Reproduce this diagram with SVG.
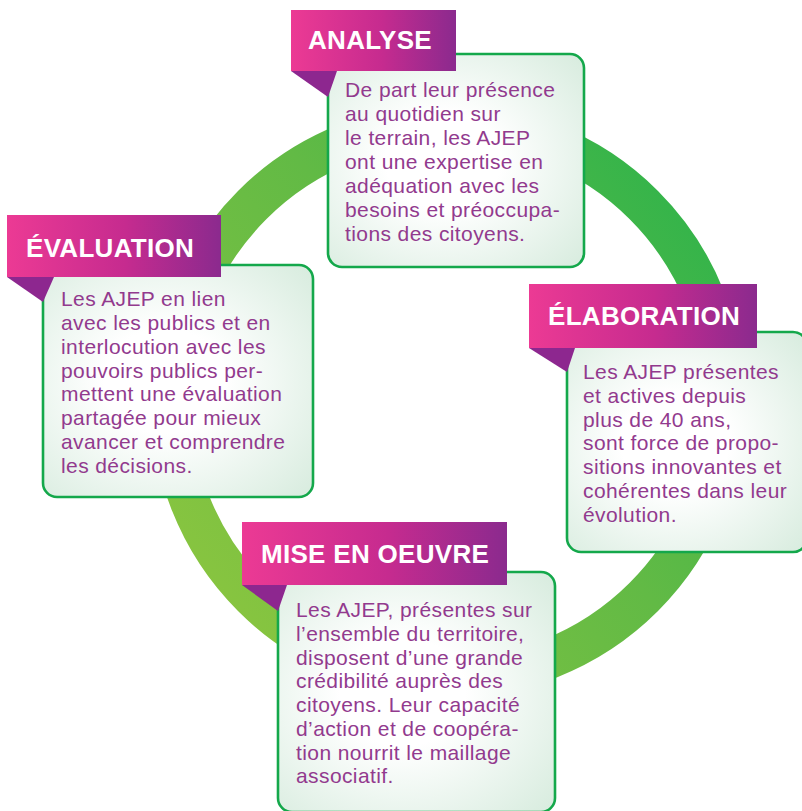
<svg xmlns="http://www.w3.org/2000/svg" width="802" height="811" viewBox="0 0 802 811">
  <defs>
    <linearGradient id="ring" gradientUnits="userSpaceOnUse" x1="720" y1="180" x2="170" y2="620">
      <stop offset="0" stop-color="#2db34b"/>
      <stop offset="0.45" stop-color="#62ba45"/>
      <stop offset="1" stop-color="#8dc63f"/>
    </linearGradient>
    <linearGradient id="banner" x1="0" y1="0" x2="1" y2="0">
      <stop offset="0" stop-color="#ec3a94"/>
      <stop offset="0.55" stop-color="#c62b8f"/>
      <stop offset="1" stop-color="#8b2a8e"/>
    </linearGradient>
    <radialGradient id="boxfill" cx="0.45" cy="0.5" r="0.75">
      <stop offset="0.3" stop-color="#ffffff"/>
      <stop offset="1" stop-color="#d6ebdd"/>
    </radialGradient>
    <style>
      .box { fill: url(#boxfill); stroke: #14a84b; stroke-width: 2.6; }
      .banner { fill: url(#banner); }
      .fold { fill: #8d278f; }
      .title { font-family: "Liberation Sans", Arial, sans-serif; font-weight: bold; font-size: 26px; fill: #ffffff; letter-spacing: 0.3px; }
      .body { font-family: "Liberation Sans", Arial, sans-serif; font-size: 21px; fill: #923a8e; letter-spacing: 0.4px; }
    </style>
  </defs>
  <rect width="802" height="811" fill="#ffffff"/>

  <g id="connectors">
    <circle cx="448" cy="401" r="277" fill="none" stroke="url(#ring)" stroke-width="40"/>
  </g>

  <g id="analyse">
    <rect class="box" x="328" y="54" width="256" height="213" rx="14"/>
    <polygon class="fold" points="291,71 337,71 328,97"/>
    <rect class="banner" x="291" y="10" width="165" height="61"/>
    <text class="title" x="308" y="49">ANALYSE</text>
    <text class="body">
      <tspan x="345" y="97">De part leur présence</tspan>
      <tspan x="345" y="121">au quotidien sur</tspan>
      <tspan x="345" y="145">le terrain, les AJEP</tspan>
      <tspan x="345" y="169">ont une expertise en</tspan>
      <tspan x="345" y="193">adéquation avec les</tspan>
      <tspan x="345" y="217">besoins et préoccupa-</tspan>
      <tspan x="345" y="241">tions des citoyens.</tspan>
    </text>
  </g>

  <g id="evaluation">
    <rect class="box" x="43" y="265" width="270" height="232" rx="14"/>
    <polygon class="fold" points="7,277 54,277 43,302"/>
    <rect class="banner" x="7" y="215" width="214" height="62"/>
    <text class="title" x="26" y="257">ÉVALUATION</text>
    <text class="body">
      <tspan x="61" y="306">Les AJEP en lien</tspan>
      <tspan x="61" y="330">avec les publics et en</tspan>
      <tspan x="61" y="354">interlocution avec les</tspan>
      <tspan x="61" y="378">pouvoirs publics per-</tspan>
      <tspan x="61" y="401">mettent une évaluation</tspan>
      <tspan x="61" y="425">partagée pour mieux</tspan>
      <tspan x="61" y="449">avancer et comprendre</tspan>
      <tspan x="61" y="473">les décisions.</tspan>
    </text>
  </g>

  <g id="elaboration">
    <rect class="box" x="567" y="332" width="240" height="220" rx="14"/>
    <polygon class="fold" points="529,348 575,348 567,372"/>
    <rect class="banner" x="529" y="284" width="228" height="64"/>
    <text class="title" x="548" y="325">ÉLABORATION</text>
    <text class="body">
      <tspan x="583" y="379">Les AJEP présentes</tspan>
      <tspan x="583" y="403">et actives depuis</tspan>
      <tspan x="583" y="427">plus de 40 ans,</tspan>
      <tspan x="583" y="450">sont force de propo-</tspan>
      <tspan x="583" y="474">sitions innovantes et</tspan>
      <tspan x="583" y="498">cohérentes dans leur</tspan>
      <tspan x="583" y="522">évolution.</tspan>
    </text>
  </g>

  <g id="mise-en-oeuvre">
    <rect class="box" x="278" y="572" width="277" height="240" rx="14"/>
    <polygon class="fold" points="242,585 287,585 278,611"/>
    <rect class="banner" x="242" y="522" width="265" height="63"/>
    <text class="title" x="261" y="563">MISE EN OEUVRE</text>
    <text class="body">
      <tspan x="296" y="617">Les AJEP, présentes sur</tspan>
      <tspan x="296" y="641">l’ensemble du territoire,</tspan>
      <tspan x="296" y="665">disposent d’une grande</tspan>
      <tspan x="296" y="688">crédibilité auprès des</tspan>
      <tspan x="296" y="712">citoyens. Leur capacité</tspan>
      <tspan x="296" y="736">d’action et de coopéra-</tspan>
      <tspan x="296" y="760">tion nourrit le maillage</tspan>
      <tspan x="296" y="783">associatif.</tspan>
    </text>
  </g>
</svg>
